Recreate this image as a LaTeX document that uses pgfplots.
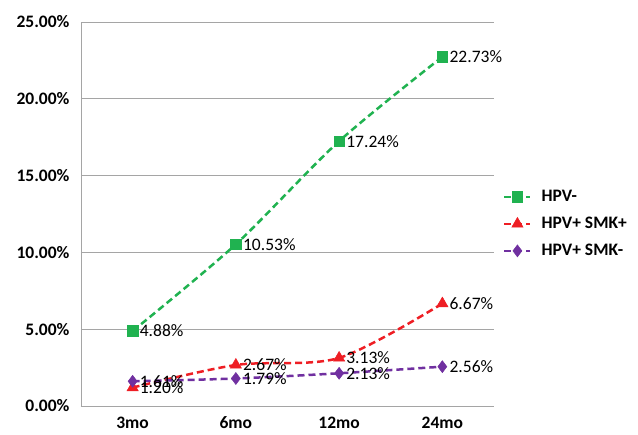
\documentclass[border=0pt]{standalone}
\usepackage{pgfplots}
\pgfplotsset{compat=1.18}
\usepackage{fontspec}
\setmainfont{Carlito}
\definecolor{cgreen}{RGB}{32,178,80}
\definecolor{cred}{RGB}{238,30,36}
\definecolor{cpurple}{RGB}{112,48,160}
\definecolor{cgrid}{RGB}{165,165,165}
\begin{document}
\begin{tikzpicture}
\path[use as bounding box] (-81pt,-29pt) rectangle (557pt,406pt);
\begin{axis}[
  scale only axis, width=413pt, height=384pt,
  at={(0,0)}, anchor=south west,
  xmin=-0.5, xmax=3.5, ymin=0, ymax=25,
  xtick={0,1,2,3}, xticklabels={3mo,6mo,12mo,24mo},
  ytick={0,5,...,25},
  ymajorgrids, grid style={cgrid, line width=0.9pt},
  axis lines*=left, axis line style={cgrid, line width=0.9pt},
  major tick length=0pt,
  tick label style={font=\fontsize{17.5}{20}\selectfont\bfseries},
  /pgf/number format/assume math mode=true,
  yticklabel={\pgfmathprintnumber[fixed,fixed zerofill,precision=2]{\tick}\%},
  yticklabel style={xshift=-8pt},
  xticklabel style={yshift=-7pt},
  point meta=y,
  nodes near coords={\pgfmathprintnumber[fixed,fixed zerofill,precision=2]{\pgfplotspointmeta}\%},
  every node near coord/.append style={anchor=west, font=\fontsize{17.5}{20}\selectfont, text=black, xshift=7pt, inner sep=0pt},
  legend style={at={(1.0,0.474)}, anchor=west, xshift=9pt, draw=none, fill=none,
    font=\fontsize{17.5}{20}\selectfont\bfseries, row sep=10pt, inner xsep=0pt},
  legend cell align=left,
  legend image code/.code={
    \draw[mark repeat=2,mark phase=2] plot coordinates {(0pt,0pt)(13pt,0pt)(26pt,0pt)};
    \path (34pt,0pt);
  },
]
\addplot[cgreen, line width=2.5pt, dash pattern=on 7pt off 4pt, smooth, mark=square*, mark size=5.3pt, mark options={solid, line width=0.5pt}]
  coordinates {(0,4.88) (1,10.53) (2,17.24) (3,22.73)};
\addlegendentry{HPV-}
\addplot[cred, line width=2.5pt, dash pattern=on 7pt off 4pt, smooth, mark=triangle*, mark size=6.5pt, mark options={solid, line width=0.5pt}]
  coordinates {(0,1.20) (1,2.67) (2,3.13) (3,6.67)};
\addlegendentry{HPV+ SMK+}
\addplot[cpurple, line width=2.5pt, dash pattern=on 7pt off 4pt, smooth, mark=diamond*, mark size=6pt, mark options={solid, line width=0.5pt}]
  coordinates {(0,1.61) (1,1.79) (2,2.13) (3,2.56)};
\addlegendentry{HPV+ SMK-}
\end{axis}
\end{tikzpicture}
\end{document}
